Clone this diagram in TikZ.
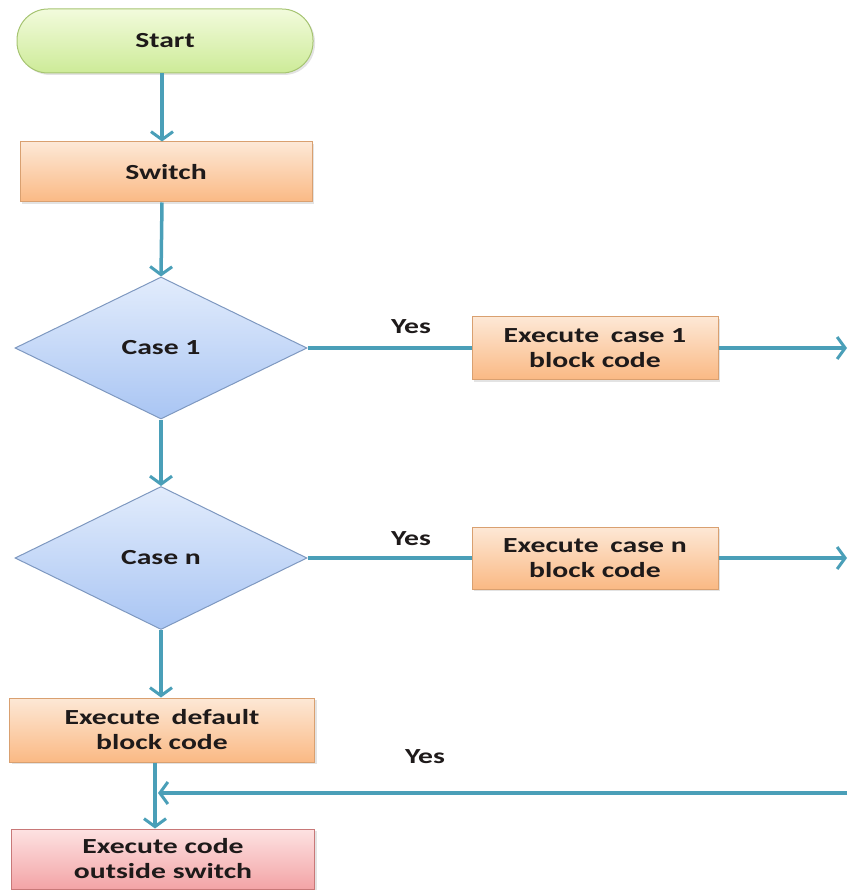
\documentclass[tikz,border=0pt]{standalone}
\usepackage{fontspec}
\setmainfont{Carlito}[FakeStretch=1.38]
\usetikzlibrary{shapes.geometric,arrows.meta,shadows}
\definecolor{flow}{HTML}{4A9FB8}
\definecolor{txt}{HTML}{1E1A1A}
\definecolor{gtop}{HTML}{F2FBDC}\definecolor{gbot}{HTML}{CDEB98}\definecolor{gbrd}{HTML}{A6C472}
\definecolor{otop}{HTML}{FDE8D6}\definecolor{obot}{HTML}{FAB984}\definecolor{obrd}{HTML}{D9A070}
\definecolor{btop}{HTML}{E2ECFC}\definecolor{bbot}{HTML}{A9C5F3}\definecolor{bbrd}{HTML}{7E98C0}
\definecolor{rtop}{HTML}{FDE2E2}\definecolor{rbot}{HTML}{F3A4A6}\definecolor{rbrd}{HTML}{C87878}
\tikzset{
  lbl/.style={font=\bfseries\fontsize{21.5}{25}\selectfont, text=txt, align=center},
  shad/.style={drop shadow={opacity=0.22, shadow xshift=2pt, shadow yshift=-2pt}},
  greenbox/.style={lbl, shad, draw=gbrd, line width=1pt, rounded corners=31pt,
     top color=gtop, bottom color=gbot, inner sep=0pt},
  orangebox/.style={lbl, shad, draw=obrd, line width=1pt,
     top color=otop, bottom color=obot, inner sep=0pt},
  redbox/.style={lbl, shad, draw=rbrd, line width=1pt,
     top color=rtop, bottom color=rbot, inner sep=0pt},
  decision/.style={lbl, diamond, draw=bbrd, line width=1pt,
     top color=btop, bottom color=bbot, inner sep=0pt},
  flowline/.style={draw=flow, line width=3.5pt},
  flowarrow/.style={flowline, -{Straight Barb[length=8pt,width=22pt,line width=3pt]}},
}
\begin{document}
\begin{tikzpicture}[x=1pt,y=-1pt]
\useasboundingbox (0,0) rectangle (847,890);
\node[greenbox, minimum width=296pt, minimum height=64pt] (start) at (165,41) {Start};
\node[orangebox, minimum width=292pt, minimum height=60pt] (switch) at (166,172) {Switch};
\node[decision, minimum width=292pt, minimum height=142pt] (case1) at (161,348) {Case 1};
\node[orangebox, minimum width=246pt, minimum height=63pt] (exec1) at (595,348) {Execute\hspace{5pt} case 1\\block code};
\node[decision, minimum width=292pt, minimum height=143pt] (casen) at (161,558) {Case n};
\node[orangebox, minimum width=246pt, minimum height=62pt] (execn) at (595,558) {Execute\hspace{5pt} case n\\block code};
\node[orangebox, minimum width=305pt, minimum height=64pt] (default) at (162,730) {Execute\hspace{5pt} default\\block code};
\node[redbox, minimum width=303pt, minimum height=60pt] (outside) at (163,859) {Execute code\\outside switch};

\node[lbl] (yes1) at (411,327) {Yes};
\node[lbl] (yesn) at (411,539) {Yes};
\node[lbl] (yesd) at (425,757) {Yes};

\coordinate (r1) at (847,348);
\coordinate (rn) at (847,558);
\coordinate (rb) at (847,793);

\draw[flowarrow] (start.south -| 162,0) -- (switch.north -| 162,0);
\draw[flowarrow] (switch.south -| 162,0) -- (case1.north);
\draw[flowline] (case1.east) -- (exec1.west);
\draw[flowarrow] (exec1.east) -- (r1);
\draw[flowarrow] (case1.south) -- (casen.north);
\draw[flowline] (casen.east) -- (execn.west);
\draw[flowarrow] (execn.east) -- (rn);
\draw[flowarrow] (casen.south) -- (casen.south |- default.north);
\draw[flowarrow] (default.south -| 155,0) -- (outside.north -| 155,0);
\draw[flowarrow] (rb) -- (158,793);
\end{tikzpicture}
\end{document}
